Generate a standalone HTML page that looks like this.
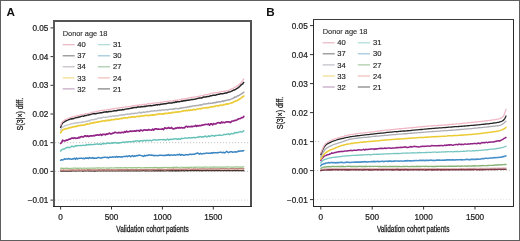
<!DOCTYPE html>
<html><head><meta charset="utf-8"><style>
html,body{margin:0;padding:0;background:#fff;}
body{width:520px;height:241px;overflow:hidden;font-family:"Liberation Sans", sans-serif;}
svg{display:block;will-change:transform;}
</style></head><body>
<svg width="520" height="241" viewBox="0 0 520 241" font-family='"Liberation Sans", sans-serif'><defs><linearGradient id="gA" gradientUnits="userSpaceOnUse" x1="60" y1="0" x2="244" y2="0"><stop offset="0" stop-color="#c8ccd2"/><stop offset="0.45" stop-color="#b4b6bc"/><stop offset="1" stop-color="#a2a2a8"/></linearGradient></defs>
<rect x="0" y="0" width="520" height="241" fill="#fff"/>
<line x1="55" y1="142.7" x2="250" y2="142.7" stroke="#c0c0c0" stroke-width="0.9" stroke-dasharray="1.2 1.8"/>
<line x1="55" y1="171.4" x2="250" y2="171.4" stroke="#c0c0c0" stroke-width="0.9" stroke-dasharray="1.2 1.8"/>
<line x1="55" y1="200.1" x2="250" y2="200.1" stroke="#d4d4d4" stroke-width="0.9" stroke-dasharray="1.2 1.8"/>
<polyline fill="none" stroke="#4a3430" stroke-width="1.3" stroke-linejoin="round" stroke-linecap="round" points="60.6,171.00 61.6,171.06 62.6,171.02 63.6,170.89 64.6,171.07 65.6,171.03 66.6,170.95 67.6,171.03 68.6,171.01 69.6,171.01 70.6,170.98 71.6,171.02 72.6,170.92 73.6,170.96 74.6,170.94 75.6,171.02 76.6,170.97 77.6,170.94 78.6,170.90 79.6,170.94 80.6,170.96 81.6,170.94 82.6,171.06 83.6,171.04 84.6,170.74 85.6,170.80 86.6,170.94 87.6,170.91 88.6,170.96 89.6,170.96 90.6,171.11 91.6,170.85 92.6,170.91 93.6,171.10 94.6,170.98 95.6,170.98 96.6,170.89 97.6,170.79 98.6,170.94 99.6,170.93 100.6,170.82 101.6,170.86 102.6,170.91 103.6,170.84 104.6,170.90 105.6,170.92 106.6,170.91 107.6,170.86 108.6,170.95 109.6,170.97 110.6,170.92 111.6,170.83 112.6,170.95 113.6,170.85 114.6,170.96 115.6,170.80 116.6,170.96 117.6,170.88 118.6,170.78 119.6,170.85 120.6,170.88 121.6,170.89 122.6,170.79 123.6,170.78 124.6,170.88 125.6,170.82 126.6,170.88 127.6,170.92 128.6,170.72 129.6,170.87 130.6,170.95 131.6,170.82 132.6,170.78 133.6,170.90 134.6,170.86 135.6,170.91 136.6,170.81 137.6,170.71 138.6,170.82 139.6,170.79 140.6,170.89 141.6,170.84 142.6,170.69 143.6,170.72 144.6,170.88 145.6,170.87 146.6,170.76 147.6,170.81 148.6,170.84 149.6,170.84 150.6,170.87 151.6,170.82 152.6,170.79 153.6,170.77 154.6,170.87 155.6,170.60 156.6,170.77 157.6,170.78 158.6,170.66 159.6,170.80 160.6,170.72 161.6,170.84 162.6,170.76 163.6,170.82 164.6,170.86 165.6,170.79 166.6,170.68 167.6,170.63 168.6,170.89 169.6,170.74 170.6,170.69 171.6,170.75 172.6,170.72 173.6,170.80 174.6,170.73 175.6,170.73 176.6,170.67 177.6,170.76 178.6,170.64 179.6,170.77 180.6,170.84 181.6,170.59 182.6,170.51 183.6,170.75 184.6,170.90 185.6,170.62 186.6,170.59 187.6,170.74 188.6,170.62 189.6,170.65 190.6,170.65 191.6,170.72 192.6,170.64 193.6,170.70 194.6,170.66 195.6,170.60 196.6,170.64 197.6,170.58 198.6,170.66 199.6,170.56 200.6,170.56 201.6,170.76 202.6,170.64 203.6,170.64 204.6,170.68 205.6,170.60 206.6,170.61 207.6,170.66 208.6,170.65 209.6,170.53 210.6,170.68 211.6,170.57 212.6,170.53 213.6,170.54 214.6,170.57 215.6,170.73 216.6,170.50 217.6,170.61 218.6,170.42 219.6,170.59 220.6,170.66 221.6,170.56 222.6,170.53 223.6,170.59 224.6,170.63 225.6,170.62 226.6,170.72 227.6,170.58 228.6,170.51 229.6,170.54 230.6,170.54 231.6,170.55 232.6,170.54 233.6,170.55 234.6,170.40 235.6,170.60 236.6,170.48 237.6,170.43 238.6,170.57 239.6,170.62 240.6,170.55 241.6,170.52 242.6,170.43 243.6,170.73 243.8,170.50"/>
<polyline fill="none" stroke="#c08478" stroke-width="1.5" stroke-linejoin="round" stroke-linecap="round" points="60.6,170.20 61.6,170.13 62.6,170.14 63.6,169.88 64.6,170.39 65.6,170.30 66.6,170.12 67.6,170.24 68.6,170.17 69.6,170.07 70.6,170.24 71.6,170.08 72.6,170.07 73.6,170.01 74.6,170.15 75.6,170.07 76.6,170.14 77.6,170.00 78.6,170.08 79.6,169.95 80.6,170.15 81.6,170.06 82.6,170.07 83.6,170.07 84.6,169.90 85.6,170.10 86.6,170.25 87.6,169.80 88.6,169.78 89.6,169.80 90.6,170.07 91.6,169.98 92.6,170.09 93.6,170.04 94.6,169.97 95.6,169.97 96.6,169.91 97.6,170.02 98.6,169.77 99.6,169.85 100.6,169.92 101.6,170.10 102.6,169.79 103.6,169.74 104.6,169.80 105.6,169.97 106.6,169.82 107.6,170.00 108.6,169.61 109.6,169.96 110.6,169.94 111.6,169.64 112.6,169.82 113.6,169.94 114.6,169.79 115.6,169.90 116.6,170.05 117.6,169.79 118.6,169.72 119.6,169.65 120.6,169.81 121.6,169.71 122.6,169.70 123.6,169.70 124.6,169.78 125.6,169.57 126.6,169.51 127.6,169.39 128.6,169.82 129.6,169.67 130.6,169.84 131.6,169.65 132.6,169.55 133.6,169.69 134.6,169.62 135.6,169.47 136.6,169.50 137.6,169.81 138.6,169.64 139.6,169.63 140.6,169.54 141.6,169.49 142.6,169.67 143.6,169.54 144.6,169.45 145.6,169.52 146.6,169.42 147.6,169.54 148.6,169.65 149.6,169.40 150.6,169.67 151.6,169.41 152.6,169.50 153.6,169.37 154.6,169.44 155.6,169.46 156.6,169.39 157.6,169.35 158.6,169.35 159.6,169.32 160.6,169.22 161.6,169.37 162.6,169.44 163.6,169.50 164.6,169.46 165.6,169.67 166.6,169.40 167.6,169.30 168.6,169.57 169.6,169.21 170.6,169.45 171.6,169.21 172.6,169.36 173.6,169.07 174.6,169.40 175.6,169.27 176.6,169.16 177.6,169.47 178.6,169.36 179.6,169.26 180.6,169.16 181.6,169.23 182.6,169.21 183.6,169.31 184.6,169.31 185.6,169.12 186.6,169.13 187.6,169.12 188.6,169.02 189.6,169.10 190.6,169.15 191.6,169.24 192.6,169.30 193.6,169.04 194.6,169.19 195.6,169.07 196.6,169.36 197.6,169.10 198.6,169.15 199.6,168.97 200.6,168.98 201.6,169.09 202.6,169.01 203.6,169.09 204.6,168.86 205.6,169.11 206.6,168.92 207.6,169.22 208.6,168.97 209.6,169.13 210.6,168.82 211.6,169.03 212.6,168.87 213.6,168.91 214.6,168.96 215.6,168.91 216.6,168.97 217.6,169.02 218.6,169.00 219.6,168.90 220.6,168.74 221.6,168.80 222.6,168.86 223.6,168.62 224.6,168.96 225.6,168.83 226.6,168.82 227.6,168.96 228.6,168.91 229.6,168.85 230.6,168.70 231.6,168.85 232.6,168.84 233.6,168.68 234.6,168.91 235.6,168.83 236.6,168.53 237.6,168.77 238.6,168.59 239.6,168.87 240.6,168.83 241.6,168.59 242.6,168.60 243.6,168.71 243.8,168.70"/>
<polyline fill="none" stroke="#98c488" stroke-width="1.2" stroke-linejoin="round" stroke-linecap="round" points="60.6,168.40 61.6,168.13 62.6,168.42 63.6,168.31 64.6,168.32 65.6,168.33 66.6,168.14 67.6,168.31 68.6,168.24 69.6,168.65 70.6,168.33 71.6,168.26 72.6,168.26 73.6,168.21 74.6,168.16 75.6,168.22 76.6,168.30 77.6,168.21 78.6,168.32 79.6,168.20 80.6,168.21 81.6,168.35 82.6,168.25 83.6,168.13 84.6,168.15 85.6,168.22 86.6,168.35 87.6,168.12 88.6,168.11 89.6,168.23 90.6,168.03 91.6,168.08 92.6,168.19 93.6,168.15 94.6,168.09 95.6,168.14 96.6,167.78 97.6,168.15 98.6,167.95 99.6,167.87 100.6,168.05 101.6,168.09 102.6,167.96 103.6,167.89 104.6,167.99 105.6,167.97 106.6,168.11 107.6,168.04 108.6,167.97 109.6,168.06 110.6,167.92 111.6,167.83 112.6,167.98 113.6,167.97 114.6,167.88 115.6,167.81 116.6,167.91 117.6,167.62 118.6,167.93 119.6,167.91 120.6,167.68 121.6,167.85 122.6,167.73 123.6,167.90 124.6,167.61 125.6,167.71 126.6,167.87 127.6,167.90 128.6,167.56 129.6,167.72 130.6,167.79 131.6,167.69 132.6,167.90 133.6,167.62 134.6,167.76 135.6,167.61 136.6,167.85 137.6,167.70 138.6,167.66 139.6,167.51 140.6,167.85 141.6,167.74 142.6,167.74 143.6,167.77 144.6,167.68 145.6,167.57 146.6,167.55 147.6,167.54 148.6,167.75 149.6,167.46 150.6,167.54 151.6,167.55 152.6,167.60 153.6,167.63 154.6,167.44 155.6,167.38 156.6,167.55 157.6,167.66 158.6,167.61 159.6,167.54 160.6,167.48 161.6,167.54 162.6,167.47 163.6,167.57 164.6,167.40 165.6,167.49 166.6,167.46 167.6,167.51 168.6,167.47 169.6,167.70 170.6,167.58 171.6,167.58 172.6,167.22 173.6,167.38 174.6,167.34 175.6,167.45 176.6,167.16 177.6,167.50 178.6,167.48 179.6,167.23 180.6,167.26 181.6,167.27 182.6,167.35 183.6,167.40 184.6,167.53 185.6,167.30 186.6,167.39 187.6,167.32 188.6,167.47 189.6,167.36 190.6,167.42 191.6,167.17 192.6,167.25 193.6,167.18 194.6,167.40 195.6,167.31 196.6,167.20 197.6,167.18 198.6,167.27 199.6,167.14 200.6,167.11 201.6,167.25 202.6,167.44 203.6,167.16 204.6,167.12 205.6,167.05 206.6,167.03 207.6,167.21 208.6,167.23 209.6,167.14 210.6,167.17 211.6,167.14 212.6,167.13 213.6,166.96 214.6,167.06 215.6,167.11 216.6,167.01 217.6,167.03 218.6,166.99 219.6,167.03 220.6,167.15 221.6,167.01 222.6,167.03 223.6,167.12 224.6,167.10 225.6,167.19 226.6,166.81 227.6,167.10 228.6,166.96 229.6,167.01 230.6,167.07 231.6,167.09 232.6,167.08 233.6,166.98 234.6,167.12 235.6,166.93 236.6,166.93 237.6,167.02 238.6,166.88 239.6,167.14 240.6,167.02 241.6,167.13 242.6,166.91 243.6,166.86 243.8,166.90"/>
<polyline fill="none" stroke="#3b86c2" stroke-width="1.5" stroke-linejoin="round" stroke-linecap="round" points="60.6,160.30 61.6,159.67 62.6,160.05 63.6,159.58 64.6,158.70 65.6,159.16 66.6,158.88 67.6,159.08 68.6,158.44 69.6,159.00 70.6,158.95 71.6,159.34 72.6,158.87 73.6,158.89 74.6,158.19 75.6,159.39 76.6,157.98 77.6,158.94 78.6,158.43 79.6,158.22 80.6,158.26 81.6,158.22 82.6,158.54 83.6,158.34 84.6,158.84 85.6,157.71 86.6,158.28 87.6,157.95 88.6,158.47 89.6,157.48 90.6,158.04 91.6,158.19 92.6,157.60 93.6,158.38 94.6,158.08 95.6,158.32 96.6,158.27 97.6,157.59 98.6,157.61 99.6,157.76 100.6,158.03 101.6,158.02 102.6,157.45 103.6,157.43 104.6,157.31 105.6,157.33 106.6,157.38 107.6,157.36 108.6,158.02 109.6,157.12 110.6,157.13 111.6,157.32 112.6,156.79 113.6,156.92 114.6,156.99 115.6,157.19 116.6,156.44 117.6,157.27 118.6,156.65 119.6,156.77 120.6,156.94 121.6,156.82 122.6,156.90 123.6,156.55 124.6,156.43 125.6,156.49 126.6,156.00 127.6,156.67 128.6,155.96 129.6,155.75 130.6,156.80 131.6,156.02 132.6,155.63 133.6,156.58 134.6,155.82 135.6,156.24 136.6,155.58 137.6,155.73 138.6,155.22 139.6,155.12 140.6,155.40 141.6,155.66 142.6,155.93 143.6,156.44 144.6,155.27 145.6,155.92 146.6,155.36 147.6,155.49 148.6,155.03 149.6,155.00 150.6,155.21 151.6,155.05 152.6,155.42 153.6,155.17 154.6,155.79 155.6,155.41 156.6,155.39 157.6,155.69 158.6,155.46 159.6,155.25 160.6,155.21 161.6,155.17 162.6,155.55 163.6,155.43 164.6,155.27 165.6,155.39 166.6,154.92 167.6,155.25 168.6,154.59 169.6,155.48 170.6,155.04 171.6,155.05 172.6,155.16 173.6,154.93 174.6,154.82 175.6,155.27 176.6,154.88 177.6,154.51 178.6,154.92 179.6,154.18 180.6,155.25 181.6,154.61 182.6,154.63 183.6,155.32 184.6,155.24 185.6,154.52 186.6,154.63 187.6,154.73 188.6,154.88 189.6,154.22 190.6,154.26 191.6,154.56 192.6,154.19 193.6,154.29 194.6,154.19 195.6,153.56 196.6,153.59 197.6,152.95 198.6,153.68 199.6,154.15 200.6,153.29 201.6,154.00 202.6,153.86 203.6,153.46 204.6,153.41 205.6,153.38 206.6,153.00 207.6,153.13 208.6,153.15 209.6,153.30 210.6,153.30 211.6,152.73 212.6,153.19 213.6,152.60 214.6,152.74 215.6,152.86 216.6,152.67 217.6,152.58 218.6,152.66 219.6,152.34 220.6,152.25 221.6,152.36 222.6,152.70 223.6,152.30 224.6,152.92 225.6,152.32 226.6,151.22 227.6,152.01 228.6,152.65 229.6,152.05 230.6,151.85 231.6,151.64 232.6,152.29 233.6,152.11 234.6,151.91 235.6,151.74 236.6,151.97 237.6,151.66 238.6,150.86 239.6,151.40 240.6,151.08 241.6,150.86 242.6,151.02 243.6,150.64 243.8,150.60"/>
<polyline fill="none" stroke="#66c2b8" stroke-width="1.45" stroke-linejoin="round" stroke-linecap="round" points="60.6,151.20 61.6,149.68 62.6,149.35 63.6,149.05 64.6,148.86 65.6,148.17 66.6,147.63 67.6,147.27 68.6,147.53 69.6,147.61 70.6,146.99 71.6,146.33 72.6,146.26 73.6,146.96 74.6,146.36 75.6,145.59 76.6,146.01 77.6,145.53 78.6,145.60 79.6,145.54 80.6,145.36 81.6,145.68 82.6,145.38 83.6,145.11 84.6,145.36 85.6,145.41 86.6,144.51 87.6,144.89 88.6,144.58 89.6,144.78 90.6,144.34 91.6,144.72 92.6,144.64 93.6,144.49 94.6,144.18 95.6,144.33 96.6,144.04 97.6,143.88 98.6,144.33 99.6,143.81 100.6,144.48 101.6,144.25 102.6,143.27 103.6,143.94 104.6,143.40 105.6,143.68 106.6,143.60 107.6,142.84 108.6,143.33 109.6,143.23 110.6,143.54 111.6,142.75 112.6,143.29 113.6,142.60 114.6,142.77 115.6,142.51 116.6,143.19 117.6,142.82 118.6,143.36 119.6,142.69 120.6,142.68 121.6,142.61 122.6,142.05 123.6,142.16 124.6,142.56 125.6,141.91 126.6,142.03 127.6,141.89 128.6,142.03 129.6,141.64 130.6,141.64 131.6,141.70 132.6,141.59 133.6,141.20 134.6,141.72 135.6,140.93 136.6,140.89 137.6,140.80 138.6,141.48 139.6,140.98 140.6,140.71 141.6,140.60 142.6,141.05 143.6,140.50 144.6,140.37 145.6,140.93 146.6,140.27 147.6,140.50 148.6,140.54 149.6,140.34 150.6,140.41 151.6,140.81 152.6,140.14 153.6,139.84 154.6,139.59 155.6,140.07 156.6,139.96 157.6,140.11 158.6,139.81 159.6,139.75 160.6,139.62 161.6,139.63 162.6,139.81 163.6,139.58 164.6,139.68 165.6,140.23 166.6,139.71 167.6,138.98 168.6,140.02 169.6,139.51 170.6,139.04 171.6,139.59 172.6,139.24 173.6,138.98 174.6,138.91 175.6,138.73 176.6,139.01 177.6,139.28 178.6,138.75 179.6,138.92 180.6,139.32 181.6,138.21 182.6,138.61 183.6,138.33 184.6,137.99 185.6,137.90 186.6,138.13 187.6,138.18 188.6,137.76 189.6,137.84 190.6,137.96 191.6,137.72 192.6,137.80 193.6,137.57 194.6,137.48 195.6,137.82 196.6,137.33 197.6,137.08 198.6,137.18 199.6,136.56 200.6,136.67 201.6,136.97 202.6,136.83 203.6,137.06 204.6,136.48 205.6,135.92 206.6,136.97 207.6,136.61 208.6,135.83 209.6,136.56 210.6,136.04 211.6,135.35 212.6,135.73 213.6,135.62 214.6,136.23 215.6,135.36 216.6,135.45 217.6,135.35 218.6,135.22 219.6,134.94 220.6,135.22 221.6,135.40 222.6,135.15 223.6,134.52 224.6,134.34 225.6,134.64 226.6,134.24 227.6,134.14 228.6,133.65 229.6,134.70 230.6,134.21 231.6,133.42 232.6,133.85 233.6,133.80 234.6,132.37 235.6,132.76 236.6,132.58 237.6,132.69 238.6,132.19 239.6,131.89 240.6,131.68 241.6,132.04 242.6,131.86 243.6,130.69 243.8,130.80"/>
<polyline fill="none" stroke="#922486" stroke-width="1.7" stroke-linejoin="round" stroke-linecap="round" points="60.6,143.40 61.6,142.68 62.6,140.22 63.6,140.72 64.6,140.84 65.6,140.67 66.6,140.07 67.6,140.10 68.6,139.35 69.6,139.21 70.6,138.85 71.6,138.15 72.6,138.05 73.6,138.36 74.6,137.80 75.6,138.37 76.6,138.22 77.6,138.27 78.6,137.39 79.6,137.82 80.6,136.76 81.6,136.66 82.6,136.88 83.6,136.83 84.6,135.95 85.6,135.76 86.6,136.46 87.6,135.85 88.6,136.55 89.6,136.11 90.6,135.96 91.6,135.80 92.6,135.97 93.6,135.43 94.6,135.82 95.6,135.06 96.6,135.07 97.6,134.77 98.6,135.17 99.6,134.83 100.6,134.35 101.6,135.38 102.6,134.31 103.6,134.29 104.6,134.38 105.6,134.80 106.6,133.93 107.6,134.15 108.6,133.79 109.6,133.05 110.6,133.83 111.6,133.81 112.6,133.19 113.6,133.17 114.6,132.46 115.6,132.35 116.6,132.69 117.6,132.99 118.6,132.45 119.6,132.65 120.6,132.82 121.6,132.37 122.6,132.46 123.6,132.71 124.6,131.54 125.6,132.23 126.6,131.09 127.6,131.92 128.6,131.73 129.6,131.34 130.6,131.03 131.6,131.35 132.6,131.12 133.6,131.23 134.6,130.74 135.6,131.23 136.6,130.51 137.6,130.71 138.6,130.59 139.6,131.17 140.6,129.98 141.6,130.32 142.6,130.88 143.6,130.06 144.6,129.74 145.6,130.26 146.6,129.95 147.6,130.32 148.6,129.54 149.6,129.90 150.6,130.01 151.6,130.08 152.6,129.15 153.6,130.09 154.6,129.08 155.6,128.76 156.6,128.92 157.6,129.29 158.6,129.03 159.6,129.27 160.6,129.23 161.6,129.10 162.6,128.82 163.6,129.59 164.6,127.92 165.6,128.06 166.6,128.50 167.6,128.15 168.6,127.58 169.6,128.23 170.6,128.19 171.6,127.46 172.6,128.72 173.6,128.83 174.6,128.74 175.6,127.98 176.6,128.17 177.6,127.58 178.6,128.03 179.6,127.59 180.6,127.92 181.6,127.51 182.6,127.95 183.6,127.75 184.6,127.79 185.6,126.52 186.6,126.30 187.6,127.06 188.6,126.53 189.6,126.78 190.6,126.60 191.6,126.41 192.6,126.57 193.6,126.28 194.6,126.12 195.6,125.44 196.6,126.36 197.6,125.60 198.6,125.87 199.6,125.45 200.6,125.71 201.6,125.16 202.6,125.08 203.6,124.94 204.6,124.50 205.6,124.45 206.6,124.51 207.6,124.42 208.6,123.97 209.6,125.20 210.6,123.76 211.6,123.93 212.6,124.92 213.6,123.56 214.6,124.02 215.6,123.86 216.6,123.39 217.6,122.78 218.6,122.60 219.6,123.09 220.6,123.13 221.6,121.97 222.6,122.76 223.6,122.29 224.6,122.77 225.6,122.33 226.6,121.78 227.6,121.76 228.6,121.78 229.6,122.12 230.6,122.60 231.6,121.32 232.6,121.00 233.6,120.98 234.6,120.44 235.6,120.41 236.6,119.99 237.6,119.46 238.6,118.73 239.6,118.66 240.6,118.47 241.6,117.62 242.6,117.65 243.6,116.83 243.8,116.30"/>
<polyline fill="none" stroke="#ebcb36" stroke-width="1.7" stroke-linejoin="round" stroke-linecap="round" points="60.6,132.80 61.6,131.01 62.6,130.04 63.6,129.40 64.6,129.14 65.6,128.71 66.6,128.62 67.6,128.61 68.6,127.93 69.6,127.66 70.6,127.67 71.6,127.42 72.6,127.15 73.6,126.72 74.6,126.72 75.6,126.69 76.6,126.05 77.6,126.07 78.6,125.57 79.6,125.53 80.6,125.23 81.6,125.40 82.6,124.99 83.6,125.14 84.6,124.92 85.6,124.64 86.6,123.92 87.6,124.13 88.6,124.01 89.6,123.81 90.6,123.21 91.6,123.20 92.6,122.85 93.6,122.65 94.6,122.83 95.6,122.20 96.6,122.16 97.6,122.17 98.6,121.66 99.6,121.60 100.6,121.48 101.6,121.30 102.6,120.86 103.6,121.00 104.6,121.13 105.6,120.34 106.6,120.73 107.6,120.43 108.6,120.12 109.6,120.56 110.6,120.16 111.6,119.59 112.6,119.74 113.6,119.72 114.6,119.42 115.6,119.47 116.6,119.18 117.6,119.20 118.6,119.23 119.6,118.63 120.6,118.69 121.6,118.40 122.6,118.40 123.6,117.97 124.6,117.97 125.6,117.92 126.6,118.02 127.6,117.94 128.6,117.27 129.6,117.25 130.6,117.44 131.6,116.73 132.6,116.94 133.6,116.90 134.6,117.08 135.6,116.83 136.6,116.49 137.6,116.36 138.6,116.28 139.6,116.56 140.6,116.02 141.6,115.95 142.6,115.99 143.6,115.79 144.6,115.67 145.6,115.38 146.6,115.52 147.6,115.34 148.6,115.60 149.6,115.39 150.6,115.14 151.6,115.20 152.6,114.88 153.6,115.09 154.6,114.76 155.6,114.79 156.6,114.27 157.6,114.52 158.6,113.96 159.6,113.77 160.6,114.04 161.6,113.79 162.6,113.91 163.6,114.24 164.6,113.45 165.6,113.37 166.6,113.43 167.6,113.37 168.6,113.09 169.6,112.96 170.6,113.03 171.6,112.86 172.6,112.39 173.6,112.47 174.6,112.36 175.6,111.99 176.6,112.14 177.6,111.76 178.6,112.03 179.6,111.73 180.6,111.57 181.6,111.28 182.6,111.24 183.6,110.69 184.6,110.74 185.6,110.92 186.6,110.23 187.6,110.74 188.6,110.02 189.6,110.43 190.6,109.93 191.6,110.14 192.6,109.84 193.6,109.33 194.6,109.79 195.6,109.68 196.6,109.20 197.6,109.00 198.6,108.87 199.6,108.54 200.6,108.85 201.6,108.33 202.6,108.29 203.6,107.97 204.6,107.86 205.6,107.56 206.6,107.96 207.6,107.50 208.6,107.59 209.6,107.22 210.6,106.90 211.6,106.82 212.6,106.61 213.6,106.56 214.6,106.31 215.6,106.16 216.6,105.74 217.6,105.69 218.6,106.06 219.6,105.37 220.6,105.12 221.6,105.25 222.6,105.31 223.6,104.50 224.6,104.59 225.6,104.30 226.6,103.84 227.6,104.17 228.6,103.76 229.6,103.53 230.6,103.06 231.6,103.00 232.6,102.41 233.6,102.09 234.6,101.44 235.6,100.95 236.6,101.02 237.6,100.10 238.6,99.73 239.6,99.06 240.6,98.31 241.6,97.58 242.6,97.08 243.6,96.09 243.8,96.00"/>
<polyline fill="none" stroke="url(#gA)" stroke-width="1.5" stroke-linejoin="round" stroke-linecap="round" points="60.6,130.00 61.6,128.00 62.6,127.05 63.6,126.62 64.6,125.75 65.6,125.74 66.6,125.13 67.6,125.04 68.6,124.64 69.6,124.39 70.6,124.01 71.6,123.63 72.6,123.61 73.6,123.57 74.6,122.98 75.6,123.08 76.6,122.82 77.6,122.98 78.6,122.40 79.6,122.39 80.6,122.40 81.6,122.25 82.6,121.73 83.6,121.99 84.6,121.73 85.6,121.53 86.6,121.35 87.6,121.20 88.6,120.55 89.6,120.96 90.6,120.21 91.6,119.66 92.6,119.81 93.6,119.84 94.6,119.18 95.6,119.34 96.6,119.11 97.6,118.41 98.6,117.89 99.6,117.96 100.6,118.26 101.6,117.69 102.6,117.39 103.6,117.26 104.6,117.38 105.6,117.22 106.6,117.25 107.6,117.13 108.6,116.61 109.6,116.62 110.6,116.29 111.6,116.39 112.6,116.01 113.6,115.87 114.6,116.40 115.6,115.84 116.6,115.83 117.6,116.06 118.6,115.57 119.6,115.25 120.6,115.14 121.6,114.84 122.6,115.07 123.6,114.64 124.6,114.92 125.6,114.36 126.6,114.22 127.6,114.07 128.6,114.14 129.6,113.92 130.6,114.02 131.6,113.50 132.6,113.54 133.6,113.74 134.6,113.18 135.6,113.20 136.6,113.29 137.6,112.96 138.6,112.60 139.6,112.20 140.6,112.97 141.6,112.46 142.6,112.51 143.6,112.05 144.6,112.40 145.6,112.03 146.6,111.83 147.6,111.53 148.6,111.67 149.6,111.40 150.6,111.34 151.6,110.96 152.6,111.08 153.6,111.10 154.6,110.71 155.6,110.87 156.6,110.88 157.6,110.58 158.6,110.41 159.6,110.31 160.6,110.52 161.6,109.92 162.6,110.07 163.6,109.95 164.6,109.96 165.6,109.82 166.6,109.51 167.6,110.05 168.6,109.57 169.6,109.17 170.6,109.16 171.6,109.25 172.6,109.25 173.6,108.75 174.6,109.05 175.6,108.52 176.6,108.51 177.6,108.72 178.6,108.76 179.6,108.27 180.6,108.09 181.6,108.26 182.6,107.64 183.6,107.76 184.6,107.59 185.6,107.59 186.6,107.28 187.6,107.00 188.6,107.01 189.6,106.49 190.6,106.71 191.6,106.24 192.6,106.02 193.6,105.96 194.6,105.87 195.6,105.84 196.6,105.49 197.6,105.51 198.6,105.40 199.6,105.02 200.6,104.68 201.6,104.91 202.6,104.62 203.6,103.98 204.6,104.05 205.6,104.11 206.6,103.65 207.6,103.63 208.6,103.26 209.6,103.52 210.6,103.33 211.6,103.15 212.6,103.23 213.6,102.70 214.6,102.55 215.6,102.83 216.6,101.99 217.6,102.22 218.6,101.63 219.6,101.76 220.6,101.96 221.6,101.41 222.6,101.02 223.6,101.46 224.6,100.68 225.6,100.53 226.6,100.41 227.6,99.84 228.6,100.06 229.6,99.86 230.6,99.36 231.6,98.92 232.6,98.44 233.6,98.24 234.6,97.00 235.6,97.16 236.6,96.76 237.6,95.80 238.6,95.73 239.6,95.02 240.6,94.41 241.6,93.78 242.6,93.18 243.6,92.44 243.8,92.20"/>
<polyline fill="none" stroke="#262626" stroke-width="1.5" stroke-linejoin="round" stroke-linecap="round" points="60.6,127.20 61.6,124.53 62.6,122.86 63.6,122.31 64.6,121.71 65.6,120.93 66.6,120.58 67.6,120.14 68.6,119.69 69.6,119.30 70.6,118.81 71.6,119.03 72.6,118.54 73.6,118.66 74.6,118.15 75.6,117.82 76.6,117.44 77.6,117.51 78.6,116.98 79.6,117.05 80.6,116.52 81.6,116.38 82.6,115.90 83.6,116.26 84.6,115.68 85.6,115.42 86.6,115.40 87.6,114.94 88.6,115.00 89.6,114.51 90.6,114.58 91.6,114.15 92.6,113.85 93.6,113.86 94.6,113.55 95.6,113.68 96.6,113.43 97.6,113.34 98.6,113.12 99.6,112.90 100.6,112.80 101.6,112.81 102.6,112.48 103.6,112.25 104.6,112.08 105.6,112.06 106.6,111.85 107.6,112.11 108.6,111.52 109.6,111.40 110.6,111.38 111.6,111.39 112.6,111.12 113.6,110.88 114.6,110.77 115.6,110.70 116.6,110.75 117.6,110.31 118.6,110.30 119.6,110.06 120.6,110.05 121.6,109.90 122.6,109.46 123.6,109.87 124.6,109.38 125.6,109.11 126.6,108.88 127.6,108.81 128.6,108.69 129.6,108.61 130.6,108.35 131.6,108.26 132.6,107.79 133.6,107.75 134.6,107.56 135.6,107.58 136.6,107.47 137.6,107.04 138.6,107.09 139.6,107.08 140.6,106.97 141.6,106.53 142.6,106.65 143.6,106.49 144.6,106.24 145.6,106.48 146.6,105.89 147.6,105.89 148.6,105.87 149.6,105.71 150.6,105.53 151.6,105.63 152.6,105.52 153.6,105.31 154.6,105.20 155.6,104.91 156.6,104.61 157.6,104.98 158.6,104.38 159.6,104.72 160.6,104.23 161.6,104.15 162.6,103.96 163.6,103.99 164.6,103.63 165.6,103.85 166.6,103.52 167.6,103.33 168.6,103.08 169.6,103.07 170.6,102.88 171.6,103.03 172.6,102.74 173.6,102.22 174.6,102.54 175.6,101.81 176.6,102.24 177.6,101.58 178.6,101.71 179.6,101.67 180.6,101.39 181.6,101.07 182.6,101.26 183.6,100.65 184.6,100.53 185.6,100.79 186.6,100.29 187.6,100.28 188.6,100.20 189.6,99.89 190.6,99.77 191.6,99.57 192.6,99.41 193.6,99.38 194.6,99.16 195.6,98.89 196.6,98.79 197.6,98.39 198.6,98.17 199.6,97.95 200.6,98.02 201.6,97.95 202.6,97.52 203.6,97.01 204.6,97.03 205.6,96.97 206.6,96.74 207.6,96.51 208.6,96.44 209.6,96.22 210.6,95.68 211.6,95.75 212.6,95.37 213.6,95.31 214.6,95.27 215.6,95.15 216.6,94.78 217.6,94.40 218.6,94.23 219.6,94.17 220.6,93.77 221.6,93.73 222.6,93.65 223.6,93.51 224.6,93.14 225.6,93.03 226.6,92.96 227.6,92.55 228.6,91.97 229.6,91.95 230.6,91.60 231.6,91.10 232.6,90.75 233.6,90.07 234.6,89.99 235.6,89.34 236.6,88.61 237.6,88.09 238.6,87.38 239.6,86.48 240.6,85.39 241.6,84.41 242.6,84.08 243.6,82.47 243.8,82.40"/>
<polyline fill="none" stroke="#f0b8c6" stroke-width="1.3" stroke-linejoin="round" stroke-linecap="round" points="60.6,125.60 61.6,122.78 62.6,121.41 63.6,120.70 64.6,119.98 65.6,119.52 66.6,119.15 67.6,118.74 68.6,118.32 69.6,117.86 70.6,117.50 71.6,117.20 72.6,116.99 73.6,116.77 74.6,116.38 75.6,116.11 76.6,116.08 77.6,115.52 78.6,115.53 79.6,115.39 80.6,114.95 81.6,114.71 82.6,114.54 83.6,114.53 84.6,114.20 85.6,113.71 86.6,113.70 87.6,113.67 88.6,113.43 89.6,113.12 90.6,112.74 91.6,112.25 92.6,112.31 93.6,112.02 94.6,111.82 95.6,111.81 96.6,111.40 97.6,111.22 98.6,111.08 99.6,110.78 100.6,110.55 101.6,110.38 102.6,110.45 103.6,110.26 104.6,109.96 105.6,110.06 106.6,109.78 107.6,109.41 108.6,109.57 109.6,109.32 110.6,109.01 111.6,109.15 112.6,108.89 113.6,108.75 114.6,108.76 115.6,108.21 116.6,108.21 117.6,108.19 118.6,108.15 119.6,107.87 120.6,107.67 121.6,107.52 122.6,107.51 123.6,107.48 124.6,107.02 125.6,106.78 126.6,106.90 127.6,106.74 128.6,106.51 129.6,106.60 130.6,106.48 131.6,106.13 132.6,106.02 133.6,106.01 134.6,105.72 135.6,105.43 136.6,105.49 137.6,105.22 138.6,105.27 139.6,105.00 140.6,104.91 141.6,104.88 142.6,104.65 143.6,104.43 144.6,104.24 145.6,104.52 146.6,104.29 147.6,103.77 148.6,103.70 149.6,103.81 150.6,103.50 151.6,103.46 152.6,103.45 153.6,103.21 154.6,103.04 155.6,102.85 156.6,102.78 157.6,102.71 158.6,102.78 159.6,102.55 160.6,102.22 161.6,102.26 162.6,102.01 163.6,101.64 164.6,101.72 165.6,101.75 166.6,101.38 167.6,101.48 168.6,101.16 169.6,101.08 170.6,100.77 171.6,101.12 172.6,100.74 173.6,100.69 174.6,100.33 175.6,100.03 176.6,100.29 177.6,99.85 178.6,100.06 179.6,99.63 180.6,99.75 181.6,99.24 182.6,98.93 183.6,99.14 184.6,98.86 185.6,98.71 186.6,98.70 187.6,98.24 188.6,98.01 189.6,97.86 190.6,97.61 191.6,97.41 192.6,97.31 193.6,97.18 194.6,97.07 195.6,96.78 196.6,96.75 197.6,96.69 198.6,96.34 199.6,96.23 200.6,95.82 201.6,95.78 202.6,95.58 203.6,95.18 204.6,94.81 205.6,94.77 206.6,94.57 207.6,94.55 208.6,94.04 209.6,94.13 210.6,93.31 211.6,93.41 212.6,93.18 213.6,93.01 214.6,92.80 215.6,92.69 216.6,92.76 217.6,92.32 218.6,92.35 219.6,92.00 220.6,91.88 221.6,91.37 222.6,91.59 223.6,91.52 224.6,91.10 225.6,91.00 226.6,90.77 227.6,90.98 228.6,90.26 229.6,89.96 230.6,89.26 231.6,88.98 232.6,88.74 233.6,88.00 234.6,87.22 235.6,86.98 236.6,86.36 237.6,85.65 238.6,84.86 239.6,83.84 240.6,83.39 241.6,81.77 242.6,80.66 243.6,79.06 243.8,79.00"/>
<rect x="53" y="20" width="2" height="187" fill="#5a5a5a"/>
<rect x="250" y="20" width="2" height="187" fill="#505050"/>
<rect x="53" y="20" width="199" height="2" fill="#555"/>
<rect x="53" y="206" width="199" height="1" fill="#2a2a2a"/>
<line x1="50.5" y1="27.9" x2="53" y2="27.9" stroke="#333" stroke-width="1"/>
<text x="48.4" y="30.9" text-anchor="end" font-size="8.2" fill="#222" stroke="#222" stroke-width="0.22">0.05</text>
<line x1="50.5" y1="56.6" x2="53" y2="56.6" stroke="#333" stroke-width="1"/>
<text x="48.4" y="59.6" text-anchor="end" font-size="8.2" fill="#222" stroke="#222" stroke-width="0.22">0.04</text>
<line x1="50.5" y1="85.3" x2="53" y2="85.3" stroke="#333" stroke-width="1"/>
<text x="48.4" y="88.3" text-anchor="end" font-size="8.2" fill="#222" stroke="#222" stroke-width="0.22">0.03</text>
<line x1="50.5" y1="114.0" x2="53" y2="114.0" stroke="#333" stroke-width="1"/>
<text x="48.4" y="117.0" text-anchor="end" font-size="8.2" fill="#222" stroke="#222" stroke-width="0.22">0.02</text>
<line x1="50.5" y1="142.7" x2="53" y2="142.7" stroke="#333" stroke-width="1"/>
<text x="48.4" y="145.7" text-anchor="end" font-size="8.2" fill="#222" stroke="#222" stroke-width="0.22">0.01</text>
<line x1="50.5" y1="171.4" x2="53" y2="171.4" stroke="#333" stroke-width="1"/>
<text x="48.4" y="174.4" text-anchor="end" font-size="8.2" fill="#222" stroke="#222" stroke-width="0.22">0.00</text>
<line x1="50.5" y1="200.1" x2="53" y2="200.1" stroke="#333" stroke-width="1"/>
<text x="48.4" y="203.1" text-anchor="end" font-size="8.2" fill="#222" stroke="#222" stroke-width="0.22">−0.01</text>
<line x1="60.6" y1="207" x2="60.6" y2="209.5" stroke="#333" stroke-width="1"/>
<text x="60.6" y="219.6" text-anchor="middle" font-size="8.2" fill="#222" stroke="#222" stroke-width="0.22">0</text>
<line x1="111.5" y1="207" x2="111.5" y2="209.5" stroke="#333" stroke-width="1"/>
<text x="111.5" y="219.6" text-anchor="middle" font-size="8.2" fill="#222" stroke="#222" stroke-width="0.22">500</text>
<line x1="162.4" y1="207" x2="162.4" y2="209.5" stroke="#333" stroke-width="1"/>
<text x="162.4" y="219.6" text-anchor="middle" font-size="8.2" fill="#222" stroke="#222" stroke-width="0.22">1000</text>
<line x1="213.3" y1="207" x2="213.3" y2="209.5" stroke="#333" stroke-width="1"/>
<text x="213.3" y="219.6" text-anchor="middle" font-size="8.2" fill="#222" stroke="#222" stroke-width="0.22">1500</text>
<text x="116.3" y="231.7" font-size="8.6" fill="#222" stroke="#222" stroke-width="0.3" textLength="72.5" lengthAdjust="spacingAndGlyphs">Validation cohort patients</text>
<text transform="translate(22.9,130.4) rotate(-90)" x="0" y="0" font-size="8.8" fill="#222" stroke="#222" stroke-width="0.3" textLength="32.5" lengthAdjust="spacingAndGlyphs">S(3|×) diff.</text>
<line x1="315" y1="141.6" x2="321" y2="141.6" stroke="#c0c0c0" stroke-width="0.9" stroke-dasharray="1.2 1.8"/>
<line x1="314" y1="170.6" x2="512" y2="170.6" stroke="#c8c8c8" stroke-width="0.9" stroke-dasharray="1.2 1.8"/>
<line x1="314" y1="199.6" x2="512" y2="199.6" stroke="#e0e0e0" stroke-width="0.9" stroke-dasharray="1.2 1.8"/>
<polyline fill="none" stroke="#e0a8a8" stroke-width="1.0" stroke-linejoin="round" stroke-linecap="round" points="320.8,169.60 321.8,169.34 322.8,169.12 323.8,168.95 324.8,168.79 325.8,168.82 326.8,168.75 327.8,168.70 328.8,168.67 329.8,168.66 330.8,168.69 331.8,168.53 332.8,168.54 333.8,168.61 334.8,168.44 335.8,168.50 336.8,168.44 337.8,168.46 338.8,168.47 339.8,168.34 340.8,168.37 341.8,168.35 342.8,168.40 343.8,168.37 344.8,168.48 345.8,168.37 346.8,168.49 347.8,168.38 348.8,168.41 349.8,168.40 350.8,168.40 351.8,168.34 352.8,168.42 353.8,168.42 354.8,168.41 355.8,168.43 356.8,168.36 357.8,168.39 358.8,168.37 359.8,168.32 360.8,168.43 361.8,168.38 362.8,168.40 363.8,168.52 364.8,168.42 365.8,168.42 366.8,168.47 367.8,168.48 368.8,168.51 369.8,168.39 370.8,168.51 371.8,168.41 372.8,168.36 373.8,168.37 374.8,168.48 375.8,168.46 376.8,168.49 377.8,168.38 378.8,168.41 379.8,168.37 380.8,168.33 381.8,168.43 382.8,168.51 383.8,168.49 384.8,168.40 385.8,168.50 386.8,168.41 387.8,168.46 388.8,168.48 389.8,168.42 390.8,168.40 391.8,168.48 392.8,168.44 393.8,168.42 394.8,168.48 395.8,168.44 396.8,168.48 397.8,168.41 398.8,168.50 399.8,168.41 400.8,168.44 401.8,168.37 402.8,168.52 403.8,168.47 404.8,168.49 405.8,168.38 406.8,168.48 407.8,168.45 408.8,168.53 409.8,168.40 410.8,168.49 411.8,168.53 412.8,168.42 413.8,168.49 414.8,168.43 415.8,168.49 416.8,168.50 417.8,168.55 418.8,168.50 419.8,168.45 420.8,168.52 421.8,168.49 422.8,168.55 423.8,168.46 424.8,168.56 425.8,168.50 426.8,168.51 427.8,168.55 428.8,168.47 429.8,168.47 430.8,168.52 431.8,168.49 432.8,168.50 433.8,168.48 434.8,168.48 435.8,168.54 436.8,168.60 437.8,168.43 438.8,168.58 439.8,168.54 440.8,168.56 441.8,168.51 442.8,168.46 443.8,168.49 444.8,168.45 445.8,168.41 446.8,168.49 447.8,168.50 448.8,168.47 449.8,168.49 450.8,168.40 451.8,168.53 452.8,168.46 453.8,168.47 454.8,168.50 455.8,168.43 456.8,168.58 457.8,168.51 458.8,168.50 459.8,168.44 460.8,168.39 461.8,168.45 462.8,168.38 463.8,168.42 464.8,168.41 465.8,168.46 466.8,168.41 467.8,168.39 468.8,168.44 469.8,168.36 470.8,168.33 471.8,168.32 472.8,168.41 473.8,168.33 474.8,168.29 475.8,168.22 476.8,168.25 477.8,168.31 478.8,168.32 479.8,168.36 480.8,168.23 481.8,168.28 482.8,168.31 483.8,168.13 484.8,168.35 485.8,168.16 486.8,168.15 487.8,168.25 488.8,168.21 489.8,168.24 490.8,168.20 491.8,168.17 492.8,168.13 493.8,168.09 494.8,168.14 495.8,168.00 496.8,168.07 497.8,168.10 498.8,167.98 499.8,168.06 500.8,168.05 501.8,167.99 502.8,167.96 503.8,167.97 504.8,167.96 505.8,167.89 506.0,167.90"/>
<polyline fill="none" stroke="#7e3c4a" stroke-width="1.6" stroke-linejoin="round" stroke-linecap="round" points="320.8,170.60 321.8,170.24 322.8,170.19 323.8,170.06 324.8,169.94 325.8,169.93 326.8,169.96 327.8,169.89 328.8,169.85 329.8,169.84 330.8,169.75 331.8,169.86 332.8,169.70 333.8,169.78 334.8,169.77 335.8,169.70 336.8,169.79 337.8,169.90 338.8,169.78 339.8,169.73 340.8,169.79 341.8,169.85 342.8,169.81 343.8,169.80 344.8,169.72 345.8,169.83 346.8,169.83 347.8,169.88 348.8,169.89 349.8,169.84 350.8,169.70 351.8,169.71 352.8,169.73 353.8,169.82 354.8,169.75 355.8,169.88 356.8,169.81 357.8,169.82 358.8,169.85 359.8,169.82 360.8,169.72 361.8,169.95 362.8,169.89 363.8,169.89 364.8,169.76 365.8,169.69 366.8,169.71 367.8,169.74 368.8,169.85 369.8,169.85 370.8,169.89 371.8,169.93 372.8,169.83 373.8,169.82 374.8,169.78 375.8,169.78 376.8,169.73 377.8,169.83 378.8,169.82 379.8,169.78 380.8,169.75 381.8,169.83 382.8,169.88 383.8,169.80 384.8,169.82 385.8,169.77 386.8,169.79 387.8,169.78 388.8,169.78 389.8,169.76 390.8,169.82 391.8,169.88 392.8,169.74 393.8,169.88 394.8,169.78 395.8,169.78 396.8,169.67 397.8,169.65 398.8,169.84 399.8,169.73 400.8,169.85 401.8,169.80 402.8,169.82 403.8,169.88 404.8,169.80 405.8,169.60 406.8,169.70 407.8,169.86 408.8,169.92 409.8,169.79 410.8,169.76 411.8,169.72 412.8,169.83 413.8,169.69 414.8,169.73 415.8,169.81 416.8,169.81 417.8,169.78 418.8,169.86 419.8,169.73 420.8,169.73 421.8,169.77 422.8,169.80 423.8,169.78 424.8,169.92 425.8,169.76 426.8,169.84 427.8,169.76 428.8,169.82 429.8,169.77 430.8,169.78 431.8,169.90 432.8,169.78 433.8,169.90 434.8,169.76 435.8,169.77 436.8,169.87 437.8,169.65 438.8,169.70 439.8,169.80 440.8,169.83 441.8,169.83 442.8,169.78 443.8,169.71 444.8,169.85 445.8,169.82 446.8,169.72 447.8,169.79 448.8,169.90 449.8,169.79 450.8,169.71 451.8,169.75 452.8,169.75 453.8,169.79 454.8,169.82 455.8,169.70 456.8,169.71 457.8,169.81 458.8,169.79 459.8,169.82 460.8,169.64 461.8,169.66 462.8,169.78 463.8,169.65 464.8,169.72 465.8,169.69 466.8,169.64 467.8,169.77 468.8,169.67 469.8,169.63 470.8,169.65 471.8,169.66 472.8,169.54 473.8,169.58 474.8,169.54 475.8,169.49 476.8,169.67 477.8,169.68 478.8,169.66 479.8,169.47 480.8,169.59 481.8,169.60 482.8,169.52 483.8,169.59 484.8,169.46 485.8,169.46 486.8,169.46 487.8,169.46 488.8,169.43 489.8,169.54 490.8,169.40 491.8,169.43 492.8,169.40 493.8,169.56 494.8,169.35 495.8,169.42 496.8,169.49 497.8,169.29 498.8,169.29 499.8,169.30 500.8,169.22 501.8,169.36 502.8,169.23 503.8,169.31 504.8,169.26 505.8,169.20 506.0,169.20"/>
<polyline fill="none" stroke="#86b276" stroke-width="1.4" stroke-linejoin="round" stroke-linecap="round" points="320.8,168.30 321.8,167.85 322.8,167.46 323.8,167.10 324.8,166.99 325.8,166.99 326.8,166.81 327.8,166.82 328.8,166.50 329.8,166.77 330.8,166.73 331.8,166.45 332.8,166.52 333.8,166.48 334.8,166.48 335.8,166.58 336.8,166.44 337.8,166.40 338.8,166.52 339.8,166.56 340.8,166.41 341.8,166.46 342.8,166.31 343.8,166.50 344.8,166.60 345.8,166.46 346.8,166.41 347.8,166.24 348.8,166.38 349.8,166.24 350.8,166.47 351.8,166.55 352.8,166.52 353.8,166.42 354.8,166.45 355.8,166.36 356.8,166.43 357.8,166.43 358.8,166.42 359.8,166.20 360.8,166.44 361.8,166.46 362.8,166.37 363.8,166.47 364.8,166.50 365.8,166.26 366.8,166.51 367.8,166.40 368.8,166.35 369.8,166.46 370.8,166.38 371.8,166.41 372.8,166.37 373.8,166.40 374.8,166.36 375.8,166.42 376.8,166.38 377.8,166.36 378.8,166.56 379.8,166.48 380.8,166.52 381.8,166.63 382.8,166.54 383.8,166.49 384.8,166.40 385.8,166.56 386.8,166.54 387.8,166.58 388.8,166.49 389.8,166.47 390.8,166.32 391.8,166.54 392.8,166.37 393.8,166.45 394.8,166.54 395.8,166.50 396.8,166.48 397.8,166.53 398.8,166.34 399.8,166.49 400.8,166.59 401.8,166.58 402.8,166.36 403.8,166.56 404.8,166.51 405.8,166.39 406.8,166.36 407.8,166.46 408.8,166.58 409.8,166.51 410.8,166.38 411.8,166.47 412.8,166.54 413.8,166.45 414.8,166.41 415.8,166.49 416.8,166.27 417.8,166.48 418.8,166.32 419.8,166.43 420.8,166.46 421.8,166.41 422.8,166.36 423.8,166.39 424.8,166.48 425.8,166.30 426.8,166.33 427.8,166.43 428.8,166.47 429.8,166.39 430.8,166.35 431.8,166.45 432.8,166.35 433.8,166.55 434.8,166.48 435.8,166.52 436.8,166.28 437.8,166.32 438.8,166.33 439.8,166.24 440.8,166.29 441.8,166.41 442.8,166.24 443.8,166.29 444.8,166.43 445.8,166.32 446.8,166.33 447.8,166.28 448.8,166.22 449.8,166.23 450.8,166.27 451.8,166.19 452.8,166.23 453.8,166.18 454.8,166.20 455.8,166.32 456.8,166.23 457.8,166.06 458.8,166.14 459.8,166.30 460.8,166.28 461.8,166.02 462.8,166.14 463.8,166.09 464.8,165.87 465.8,166.09 466.8,166.21 467.8,165.97 468.8,165.99 469.8,166.08 470.8,165.95 471.8,165.93 472.8,165.97 473.8,165.80 474.8,165.94 475.8,165.77 476.8,165.85 477.8,165.89 478.8,165.93 479.8,165.70 480.8,165.75 481.8,165.72 482.8,165.52 483.8,165.62 484.8,165.61 485.8,165.60 486.8,165.68 487.8,165.49 488.8,165.44 489.8,165.40 490.8,165.36 491.8,165.36 492.8,165.41 493.8,165.14 494.8,165.18 495.8,164.93 496.8,164.93 497.8,165.03 498.8,164.78 499.8,164.92 500.8,164.94 501.8,164.70 502.8,164.65 503.8,164.64 504.8,164.53 505.8,164.51 506.0,164.50"/>
<polyline fill="none" stroke="#4690ca" stroke-width="1.6" stroke-linejoin="round" stroke-linecap="round" points="320.8,165.80 321.8,164.54 322.8,164.31 323.8,163.65 324.8,163.71 325.8,163.10 326.8,163.05 327.8,162.92 328.8,162.57 329.8,162.94 330.8,162.53 331.8,162.54 332.8,162.62 333.8,162.80 334.8,162.54 335.8,162.94 336.8,162.62 337.8,162.56 338.8,162.65 339.8,162.54 340.8,162.37 341.8,162.42 342.8,162.51 343.8,162.69 344.8,162.47 345.8,162.48 346.8,162.05 347.8,162.32 348.8,162.33 349.8,162.57 350.8,162.52 351.8,162.27 352.8,162.30 353.8,162.18 354.8,162.05 355.8,162.13 356.8,162.04 357.8,162.12 358.8,162.14 359.8,161.98 360.8,162.14 361.8,161.77 362.8,161.91 363.8,161.91 364.8,161.58 365.8,161.91 366.8,161.90 367.8,162.02 368.8,161.73 369.8,161.80 370.8,161.78 371.8,161.41 372.8,161.67 373.8,161.38 374.8,161.61 375.8,161.65 376.8,161.56 377.8,161.19 378.8,161.69 379.8,161.49 380.8,161.57 381.8,161.29 382.8,161.31 383.8,161.66 384.8,161.29 385.8,161.23 386.8,161.22 387.8,161.40 388.8,160.99 389.8,161.16 390.8,161.05 391.8,161.54 392.8,161.30 393.8,161.14 394.8,161.14 395.8,161.05 396.8,161.00 397.8,161.02 398.8,161.29 399.8,160.96 400.8,160.94 401.8,161.01 402.8,161.17 403.8,161.00 404.8,160.75 405.8,160.90 406.8,160.87 407.8,160.65 408.8,160.72 409.8,160.86 410.8,160.72 411.8,161.01 412.8,160.79 413.8,160.64 414.8,160.68 415.8,160.52 416.8,160.54 417.8,160.73 418.8,160.57 419.8,160.27 420.8,160.33 421.8,160.59 422.8,160.31 423.8,160.41 424.8,160.59 425.8,160.37 426.8,160.34 427.8,160.29 428.8,160.49 429.8,160.20 430.8,160.10 431.8,160.28 432.8,160.49 433.8,160.28 434.8,160.44 435.8,160.37 436.8,160.00 437.8,160.15 438.8,160.11 439.8,160.11 440.8,160.27 441.8,160.28 442.8,160.16 443.8,160.21 444.8,159.92 445.8,160.11 446.8,159.81 447.8,159.90 448.8,159.75 449.8,160.10 450.8,159.83 451.8,159.99 452.8,159.66 453.8,159.88 454.8,159.95 455.8,159.83 456.8,159.82 457.8,159.80 458.8,159.75 459.8,159.69 460.8,159.60 461.8,159.87 462.8,159.69 463.8,159.68 464.8,159.70 465.8,159.44 466.8,159.40 467.8,159.38 468.8,159.82 469.8,159.48 470.8,159.60 471.8,159.17 472.8,159.34 473.8,159.36 474.8,159.21 475.8,159.40 476.8,159.11 477.8,159.08 478.8,159.19 479.8,159.18 480.8,158.91 481.8,158.71 482.8,158.66 483.8,158.80 484.8,158.37 485.8,158.30 486.8,158.22 487.8,158.44 488.8,158.27 489.8,157.99 490.8,157.94 491.8,157.98 492.8,157.84 493.8,157.69 494.8,157.65 495.8,157.68 496.8,157.53 497.8,157.53 498.8,157.39 499.8,157.22 500.8,157.26 501.8,157.09 502.8,156.51 503.8,156.61 504.8,156.25 505.8,155.90 506.0,156.00"/>
<polyline fill="none" stroke="#78c6c2" stroke-width="1.3" stroke-linejoin="round" stroke-linecap="round" points="320.8,163.00 321.8,161.47 322.8,160.49 323.8,159.94 324.8,159.46 325.8,159.08 326.8,159.01 327.8,158.44 328.8,158.21 329.8,157.99 330.8,157.97 331.8,157.61 332.8,157.47 333.8,157.43 334.8,157.26 335.8,156.91 336.8,157.11 337.8,156.80 338.8,156.76 339.8,156.57 340.8,156.63 341.8,156.28 342.8,156.15 343.8,156.17 344.8,156.19 345.8,155.93 346.8,155.95 347.8,155.95 348.8,155.52 349.8,155.78 350.8,155.69 351.8,155.43 352.8,155.42 353.8,155.31 354.8,155.41 355.8,155.19 356.8,155.29 357.8,155.33 358.8,154.90 359.8,155.12 360.8,155.01 361.8,154.91 362.8,154.98 363.8,154.87 364.8,154.65 365.8,154.72 366.8,154.75 367.8,154.61 368.8,154.50 369.8,154.91 370.8,154.74 371.8,154.67 372.8,154.48 373.8,154.17 374.8,154.34 375.8,154.39 376.8,154.23 377.8,154.16 378.8,154.23 379.8,154.40 380.8,154.13 381.8,154.07 382.8,153.92 383.8,154.15 384.8,153.97 385.8,153.88 386.8,153.81 387.8,153.73 388.8,153.79 389.8,153.97 390.8,153.70 391.8,153.72 392.8,153.52 393.8,153.61 394.8,153.37 395.8,153.68 396.8,153.41 397.8,153.49 398.8,153.42 399.8,153.54 400.8,153.40 401.8,153.37 402.8,153.07 403.8,153.10 404.8,153.06 405.8,153.03 406.8,153.01 407.8,153.19 408.8,153.04 409.8,153.02 410.8,152.87 411.8,152.84 412.8,152.75 413.8,153.01 414.8,152.87 415.8,152.91 416.8,152.82 417.8,152.66 418.8,152.73 419.8,152.45 420.8,152.76 421.8,152.65 422.8,152.65 423.8,152.60 424.8,152.63 425.8,152.50 426.8,152.50 427.8,152.39 428.8,152.41 429.8,152.45 430.8,152.48 431.8,152.30 432.8,152.14 433.8,152.05 434.8,152.21 435.8,152.12 436.8,152.24 437.8,152.33 438.8,152.00 439.8,152.22 440.8,152.18 441.8,151.88 442.8,151.90 443.8,152.01 444.8,151.79 445.8,151.73 446.8,151.91 447.8,151.71 448.8,151.67 449.8,151.79 450.8,151.69 451.8,151.67 452.8,151.79 453.8,151.74 454.8,151.35 455.8,151.64 456.8,151.50 457.8,151.51 458.8,151.54 459.8,151.62 460.8,151.47 461.8,151.33 462.8,151.36 463.8,151.09 464.8,151.30 465.8,151.22 466.8,151.01 467.8,150.94 468.8,150.91 469.8,150.92 470.8,151.04 471.8,150.89 472.8,150.77 473.8,150.76 474.8,150.88 475.8,150.62 476.8,150.49 477.8,150.78 478.8,150.34 479.8,150.41 480.8,150.38 481.8,150.20 482.8,150.07 483.8,150.16 484.8,149.93 485.8,149.90 486.8,149.72 487.8,149.82 488.8,149.42 489.8,149.28 490.8,149.22 491.8,149.21 492.8,149.09 493.8,149.02 494.8,148.81 495.8,148.82 496.8,148.47 497.8,148.34 498.8,148.29 499.8,148.06 500.8,147.84 501.8,147.60 502.8,147.28 503.8,147.06 504.8,146.75 505.8,146.43 506.0,146.20"/>
<polyline fill="none" stroke="#922486" stroke-width="1.5" stroke-linejoin="round" stroke-linecap="round" points="320.8,160.50 321.8,158.72 322.8,157.77 323.8,156.55 324.8,155.88 325.8,155.61 326.8,154.94 327.8,154.68 328.8,154.48 329.8,153.97 330.8,153.80 331.8,152.88 332.8,153.33 333.8,152.89 334.8,152.54 335.8,152.51 336.8,152.11 337.8,151.93 338.8,151.59 339.8,151.70 340.8,151.40 341.8,151.37 342.8,151.55 343.8,151.28 344.8,150.88 345.8,151.11 346.8,151.11 347.8,150.81 348.8,150.71 349.8,150.59 350.8,150.33 351.8,150.66 352.8,150.47 353.8,150.28 354.8,150.22 355.8,150.13 356.8,150.39 357.8,149.97 358.8,149.62 359.8,149.93 360.8,150.02 361.8,149.92 362.8,149.65 363.8,149.34 364.8,150.03 365.8,149.35 366.8,149.52 367.8,149.40 368.8,149.23 369.8,149.21 370.8,149.01 371.8,148.98 372.8,149.00 373.8,149.01 374.8,149.45 375.8,148.69 376.8,149.05 377.8,148.77 378.8,148.61 379.8,148.33 380.8,148.54 381.8,148.28 382.8,148.48 383.8,148.42 384.8,148.05 385.8,148.46 386.8,148.13 387.8,148.12 388.8,148.11 389.8,147.92 390.8,148.15 391.8,148.22 392.8,147.88 393.8,147.98 394.8,148.12 395.8,147.83 396.8,147.60 397.8,147.84 398.8,147.58 399.8,147.46 400.8,147.16 401.8,147.43 402.8,147.18 403.8,147.36 404.8,146.83 405.8,146.97 406.8,147.45 407.8,147.46 408.8,147.13 409.8,147.06 410.8,146.48 411.8,147.00 412.8,146.71 413.8,146.36 414.8,146.54 415.8,146.47 416.8,146.78 417.8,146.63 418.8,147.03 419.8,146.79 420.8,146.46 421.8,146.51 422.8,146.10 423.8,146.47 424.8,146.18 425.8,146.24 426.8,146.22 427.8,146.12 428.8,145.97 429.8,146.16 430.8,146.12 431.8,145.40 432.8,145.74 433.8,145.77 434.8,145.64 435.8,145.75 436.8,145.84 437.8,145.64 438.8,145.53 439.8,145.73 440.8,145.55 441.8,145.48 442.8,145.80 443.8,145.55 444.8,145.08 445.8,145.50 446.8,145.03 447.8,145.17 448.8,144.70 449.8,145.23 450.8,144.61 451.8,145.00 452.8,145.29 453.8,144.93 454.8,144.76 455.8,144.50 456.8,144.59 457.8,144.78 458.8,144.07 459.8,144.26 460.8,144.68 461.8,144.28 462.8,144.55 463.8,144.39 464.8,144.02 465.8,144.11 466.8,144.37 467.8,143.95 468.8,143.95 469.8,144.00 470.8,143.71 471.8,143.69 472.8,143.78 473.8,143.57 474.8,143.53 475.8,143.59 476.8,143.75 477.8,143.28 478.8,143.09 479.8,143.73 480.8,143.24 481.8,142.56 482.8,142.76 483.8,142.43 484.8,142.82 485.8,142.32 486.8,142.36 487.8,142.69 488.8,142.11 489.8,142.13 490.8,142.09 491.8,142.11 492.8,142.01 493.8,141.98 494.8,141.41 495.8,141.50 496.8,140.90 497.8,141.07 498.8,140.84 499.8,141.01 500.8,140.42 501.8,139.87 502.8,139.36 503.8,138.66 504.8,138.10 505.8,137.39 506.0,137.40"/>
<polyline fill="none" stroke="#ebcb36" stroke-width="1.5" stroke-linejoin="round" stroke-linecap="round" points="320.8,159.10 321.8,157.34 322.8,155.90 323.8,154.61 324.8,153.63 325.8,152.53 326.8,152.04 327.8,151.32 328.8,150.78 329.8,150.21 330.8,149.69 331.8,149.34 332.8,149.02 333.8,148.58 334.8,148.24 335.8,147.76 336.8,147.40 337.8,146.96 338.8,146.48 339.8,146.17 340.8,145.78 341.8,145.56 342.8,145.20 343.8,144.95 344.8,144.75 345.8,144.54 346.8,144.24 347.8,144.04 348.8,143.88 349.8,143.78 350.8,143.47 351.8,143.32 352.8,143.50 353.8,143.12 354.8,143.02 355.8,142.72 356.8,142.74 357.8,142.65 358.8,142.51 359.8,142.42 360.8,142.34 361.8,142.28 362.8,142.23 363.8,141.97 364.8,141.87 365.8,141.92 366.8,141.80 367.8,141.62 368.8,141.49 369.8,141.44 370.8,141.40 371.8,141.35 372.8,141.29 373.8,141.17 374.8,140.94 375.8,141.06 376.8,140.88 377.8,140.73 378.8,140.63 379.8,140.63 380.8,140.43 381.8,140.35 382.8,140.30 383.8,140.32 384.8,140.01 385.8,140.11 386.8,139.79 387.8,139.80 388.8,139.80 389.8,139.78 390.8,139.52 391.8,139.62 392.8,139.57 393.8,139.36 394.8,139.30 395.8,139.23 396.8,139.02 397.8,139.29 398.8,139.07 399.8,138.85 400.8,138.93 401.8,138.85 402.8,138.73 403.8,138.69 404.8,138.68 405.8,138.50 406.8,138.39 407.8,138.54 408.8,138.36 409.8,138.23 410.8,138.32 411.8,137.95 412.8,137.97 413.8,138.04 414.8,137.94 415.8,137.88 416.8,137.75 417.8,137.67 418.8,137.61 419.8,137.56 420.8,137.58 421.8,137.54 422.8,137.44 423.8,137.44 424.8,137.13 425.8,137.19 426.8,137.06 427.8,137.22 428.8,137.00 429.8,137.01 430.8,136.92 431.8,136.78 432.8,136.71 433.8,136.77 434.8,136.73 435.8,136.58 436.8,136.71 437.8,136.52 438.8,136.53 439.8,136.44 440.8,136.43 441.8,136.18 442.8,136.37 443.8,136.26 444.8,136.21 445.8,136.19 446.8,136.08 447.8,135.86 448.8,135.87 449.8,135.77 450.8,135.76 451.8,135.79 452.8,135.80 453.8,135.51 454.8,135.47 455.8,135.51 456.8,135.49 457.8,135.41 458.8,135.28 459.8,135.30 460.8,135.23 461.8,135.08 462.8,135.17 463.8,134.89 464.8,134.94 465.8,134.87 466.8,134.83 467.8,134.80 468.8,134.60 469.8,134.55 470.8,134.52 471.8,134.52 472.8,134.24 473.8,134.25 474.8,134.11 475.8,133.92 476.8,133.92 477.8,133.69 478.8,133.65 479.8,133.55 480.8,133.58 481.8,133.22 482.8,133.22 483.8,133.05 484.8,132.89 485.8,132.74 486.8,132.75 487.8,132.45 488.8,132.43 489.8,132.21 490.8,132.15 491.8,132.03 492.8,131.72 493.8,131.64 494.8,131.57 495.8,131.44 496.8,131.16 497.8,131.13 498.8,130.96 499.8,130.65 500.8,130.36 501.8,129.84 502.8,129.51 503.8,128.98 504.8,128.42 505.8,127.55 506.0,127.40"/>
<polyline fill="none" stroke="#acacb2" stroke-width="1.3" stroke-linejoin="round" stroke-linecap="round" points="320.8,157.10 321.8,154.71 322.8,152.86 323.8,151.28 324.8,149.77 325.8,148.80 326.8,147.96 327.8,147.43 328.8,146.78 329.8,146.27 330.8,145.91 331.8,145.45 332.8,144.96 333.8,144.49 334.8,144.14 335.8,143.89 336.8,143.55 337.8,143.14 338.8,142.97 339.8,142.64 340.8,142.29 341.8,142.00 342.8,141.69 343.8,141.28 344.8,140.97 345.8,140.54 346.8,140.17 347.8,139.89 348.8,139.57 349.8,139.23 350.8,139.12 351.8,138.90 352.8,138.80 353.8,138.66 354.8,138.42 355.8,138.41 356.8,138.32 357.8,138.13 358.8,137.94 359.8,137.88 360.8,137.80 361.8,137.71 362.8,137.61 363.8,137.45 364.8,137.37 365.8,137.34 366.8,137.35 367.8,137.12 368.8,137.01 369.8,136.94 370.8,136.89 371.8,136.70 372.8,136.46 373.8,136.47 374.8,136.36 375.8,136.24 376.8,136.13 377.8,136.05 378.8,136.13 379.8,135.95 380.8,135.83 381.8,135.66 382.8,135.61 383.8,135.56 384.8,135.45 385.8,135.36 386.8,135.36 387.8,135.26 388.8,135.13 389.8,134.93 390.8,134.93 391.8,134.78 392.8,134.71 393.8,134.66 394.8,134.60 395.8,134.55 396.8,134.29 397.8,134.37 398.8,134.22 399.8,134.17 400.8,134.04 401.8,134.09 402.8,133.93 403.8,133.89 404.8,133.72 405.8,133.74 406.8,133.62 407.8,133.48 408.8,133.43 409.8,133.33 410.8,133.24 411.8,133.27 412.8,133.13 413.8,133.01 414.8,132.87 415.8,132.92 416.8,132.79 417.8,132.69 418.8,132.58 419.8,132.62 420.8,132.52 421.8,132.36 422.8,132.28 423.8,132.20 424.8,132.14 425.8,132.06 426.8,131.91 427.8,131.87 428.8,131.83 429.8,131.81 430.8,131.71 431.8,131.62 432.8,131.50 433.8,131.49 434.8,131.44 435.8,131.38 436.8,131.33 437.8,131.18 438.8,131.10 439.8,131.12 440.8,130.97 441.8,130.96 442.8,130.86 443.8,130.72 444.8,130.72 445.8,130.64 446.8,130.56 447.8,130.48 448.8,130.37 449.8,130.33 450.8,130.25 451.8,130.25 452.8,130.11 453.8,130.06 454.8,130.05 455.8,129.79 456.8,129.85 457.8,129.73 458.8,129.61 459.8,129.49 460.8,129.52 461.8,129.40 462.8,129.28 463.8,129.15 464.8,129.17 465.8,129.11 466.8,128.89 467.8,128.85 468.8,128.78 469.8,128.71 470.8,128.55 471.8,128.59 472.8,128.38 473.8,128.28 474.8,128.16 475.8,128.04 476.8,128.04 477.8,127.91 478.8,127.76 479.8,127.65 480.8,127.65 481.8,127.56 482.8,127.43 483.8,127.30 484.8,127.15 485.8,127.13 486.8,127.03 487.8,126.87 488.8,126.73 489.8,126.71 490.8,126.48 491.8,126.44 492.8,126.42 493.8,126.23 494.8,126.11 495.8,125.90 496.8,125.84 497.8,125.73 498.8,125.65 499.8,125.29 500.8,125.16 501.8,124.55 502.8,123.89 503.8,123.15 504.8,122.21 505.8,121.41 506.0,121.20"/>
<polyline fill="none" stroke="#262626" stroke-width="1.3" stroke-linejoin="round" stroke-linecap="round" points="320.8,154.60 321.8,151.98 322.8,149.80 323.8,147.67 324.8,146.22 325.8,145.03 326.8,144.10 327.8,143.57 328.8,143.10 329.8,142.72 330.8,142.11 331.8,141.73 332.8,141.23 333.8,140.92 334.8,140.63 335.8,140.24 336.8,139.78 337.8,139.51 338.8,139.24 339.8,139.04 340.8,138.75 341.8,138.70 342.8,138.37 343.8,138.25 344.8,137.90 345.8,137.69 346.8,137.46 347.8,137.29 348.8,137.10 349.8,136.92 350.8,136.72 351.8,136.53 352.8,136.45 353.8,136.35 354.8,136.20 355.8,135.98 356.8,135.96 357.8,135.76 358.8,135.57 359.8,135.54 360.8,135.35 361.8,135.37 362.8,135.21 363.8,135.04 364.8,134.94 365.8,134.86 366.8,134.72 367.8,134.59 368.8,134.62 369.8,134.38 370.8,134.26 371.8,134.07 372.8,134.09 373.8,133.96 374.8,133.86 375.8,133.66 376.8,133.67 377.8,133.43 378.8,133.31 379.8,133.25 380.8,133.14 381.8,133.07 382.8,133.06 383.8,132.84 384.8,132.80 385.8,132.65 386.8,132.48 387.8,132.33 388.8,132.30 389.8,132.15 390.8,132.08 391.8,132.04 392.8,131.92 393.8,131.90 394.8,131.67 395.8,131.63 396.8,131.75 397.8,131.58 398.8,131.47 399.8,131.41 400.8,131.23 401.8,131.16 402.8,131.19 403.8,130.95 404.8,131.01 405.8,130.79 406.8,130.89 407.8,130.76 408.8,130.64 409.8,130.59 410.8,130.49 411.8,130.34 412.8,130.22 413.8,130.18 414.8,130.13 415.8,129.95 416.8,129.91 417.8,129.91 418.8,129.70 419.8,129.60 420.8,129.42 421.8,129.49 422.8,129.30 423.8,129.19 424.8,129.05 425.8,129.08 426.8,128.93 427.8,128.86 428.8,128.74 429.8,128.61 430.8,128.60 431.8,128.52 432.8,128.38 433.8,128.30 434.8,128.26 435.8,128.17 436.8,128.19 437.8,128.15 438.8,127.95 439.8,127.86 440.8,127.88 441.8,127.78 442.8,127.69 443.8,127.61 444.8,127.58 445.8,127.48 446.8,127.41 447.8,127.35 448.8,127.11 449.8,127.18 450.8,127.10 451.8,127.00 452.8,126.90 453.8,126.77 454.8,126.67 455.8,126.69 456.8,126.54 457.8,126.62 458.8,126.50 459.8,126.39 460.8,126.37 461.8,126.26 462.8,126.15 463.8,126.16 464.8,126.01 465.8,125.92 466.8,125.86 467.8,125.77 468.8,125.70 469.8,125.55 470.8,125.47 471.8,125.43 472.8,125.32 473.8,125.24 474.8,125.06 475.8,125.01 476.8,124.90 477.8,124.84 478.8,124.78 479.8,124.62 480.8,124.55 481.8,124.45 482.8,124.37 483.8,124.24 484.8,124.11 485.8,123.99 486.8,123.89 487.8,123.85 488.8,123.74 489.8,123.56 490.8,123.38 491.8,123.31 492.8,123.23 493.8,122.98 494.8,122.93 495.8,122.91 496.8,122.67 497.8,122.43 498.8,122.27 499.8,121.96 500.8,121.73 501.8,121.28 502.8,120.66 503.8,119.87 504.8,118.55 505.8,116.50 506.0,116.00"/>
<polyline fill="none" stroke="#f0b8c6" stroke-width="1.3" stroke-linejoin="round" stroke-linecap="round" points="320.8,153.10 321.8,150.53 322.8,148.15 323.8,146.07 324.8,144.67 325.8,143.50 326.8,142.67 327.8,142.03 328.8,141.48 329.8,141.01 330.8,140.53 331.8,140.04 332.8,139.67 333.8,139.25 334.8,138.85 335.8,138.56 336.8,138.28 337.8,137.94 338.8,137.65 339.8,137.41 340.8,137.10 341.8,136.80 342.8,136.52 343.8,136.33 344.8,135.96 345.8,135.70 346.8,135.50 347.8,135.27 348.8,134.95 349.8,134.84 350.8,134.63 351.8,134.48 352.8,134.30 353.8,134.16 354.8,134.08 355.8,133.90 356.8,133.71 357.8,133.60 358.8,133.44 359.8,133.28 360.8,133.22 361.8,133.17 362.8,133.05 363.8,132.86 364.8,132.91 365.8,132.73 366.8,132.54 367.8,132.45 368.8,132.34 369.8,132.20 370.8,132.16 371.8,132.05 372.8,131.84 373.8,131.74 374.8,131.61 375.8,131.45 376.8,131.29 377.8,131.16 378.8,131.11 379.8,130.98 380.8,130.85 381.8,130.74 382.8,130.62 383.8,130.48 384.8,130.29 385.8,130.17 386.8,130.20 387.8,130.04 388.8,129.86 389.8,129.78 390.8,129.73 391.8,129.67 392.8,129.55 393.8,129.42 394.8,129.31 395.8,129.14 396.8,129.11 397.8,128.97 398.8,128.91 399.8,128.73 400.8,128.73 401.8,128.59 402.8,128.56 403.8,128.35 404.8,128.36 405.8,128.24 406.8,128.11 407.8,128.07 408.8,127.92 409.8,127.92 410.8,127.69 411.8,127.80 412.8,127.53 413.8,127.41 414.8,127.30 415.8,127.32 416.8,127.19 417.8,127.06 418.8,126.97 419.8,126.86 420.8,126.86 421.8,126.76 422.8,126.67 423.8,126.49 424.8,126.50 425.8,126.36 426.8,126.30 427.8,126.18 428.8,126.16 429.8,126.11 430.8,125.97 431.8,125.91 432.8,125.82 433.8,125.70 434.8,125.69 435.8,125.56 436.8,125.53 437.8,125.49 438.8,125.46 439.8,125.28 440.8,125.30 441.8,125.26 442.8,125.12 443.8,125.05 444.8,124.99 445.8,124.92 446.8,124.80 447.8,124.76 448.8,124.52 449.8,124.51 450.8,124.47 451.8,124.44 452.8,124.24 453.8,124.15 454.8,124.07 455.8,124.05 456.8,123.87 457.8,123.85 458.8,123.80 459.8,123.63 460.8,123.58 461.8,123.45 462.8,123.39 463.8,123.18 464.8,123.05 465.8,123.04 466.8,122.97 467.8,122.75 468.8,122.71 469.8,122.53 470.8,122.45 471.8,122.29 472.8,122.25 473.8,122.12 474.8,122.14 475.8,121.98 476.8,121.94 477.8,121.88 478.8,121.61 479.8,121.68 480.8,121.50 481.8,121.40 482.8,121.26 483.8,121.09 484.8,121.01 485.8,120.93 486.8,120.75 487.8,120.70 488.8,120.60 489.8,120.38 490.8,120.26 491.8,120.19 492.8,119.93 493.8,119.89 494.8,119.62 495.8,119.57 496.8,119.32 497.8,119.07 498.8,118.84 499.8,118.65 500.8,118.15 501.8,117.65 502.8,117.03 503.8,115.66 504.8,113.11 505.8,109.94 506.0,109.20"/>
<rect x="313" y="19" width="1" height="188" fill="#2a2a2a"/>
<rect x="513" y="19" width="1" height="188" fill="#2a2a2a"/>
<rect x="313" y="19" width="201" height="1" fill="#3a3a3a"/>
<rect x="313" y="206" width="201" height="1" fill="#2a2a2a"/>
<line x1="310" y1="25.6" x2="313" y2="25.6" stroke="#333" stroke-width="1"/>
<text x="307.7" y="28.6" text-anchor="end" font-size="8.2" fill="#222" stroke="#222" stroke-width="0.22">0.05</text>
<line x1="310" y1="54.6" x2="313" y2="54.6" stroke="#333" stroke-width="1"/>
<text x="307.7" y="57.6" text-anchor="end" font-size="8.2" fill="#222" stroke="#222" stroke-width="0.22">0.04</text>
<line x1="310" y1="83.6" x2="313" y2="83.6" stroke="#333" stroke-width="1"/>
<text x="307.7" y="86.6" text-anchor="end" font-size="8.2" fill="#222" stroke="#222" stroke-width="0.22">0.03</text>
<line x1="310" y1="112.6" x2="313" y2="112.6" stroke="#333" stroke-width="1"/>
<text x="307.7" y="115.6" text-anchor="end" font-size="8.2" fill="#222" stroke="#222" stroke-width="0.22">0.02</text>
<line x1="310" y1="141.6" x2="313" y2="141.6" stroke="#333" stroke-width="1"/>
<text x="307.7" y="144.6" text-anchor="end" font-size="8.2" fill="#222" stroke="#222" stroke-width="0.22">0.01</text>
<line x1="310" y1="170.6" x2="313" y2="170.6" stroke="#333" stroke-width="1"/>
<text x="307.7" y="173.6" text-anchor="end" font-size="8.2" fill="#222" stroke="#222" stroke-width="0.22">0.00</text>
<line x1="310" y1="199.6" x2="313" y2="199.6" stroke="#333" stroke-width="1"/>
<text x="307.7" y="202.6" text-anchor="end" font-size="8.2" fill="#222" stroke="#222" stroke-width="0.22">−0.01</text>
<line x1="320.8" y1="207" x2="320.8" y2="209.5" stroke="#333" stroke-width="1"/>
<text x="320.8" y="219.6" text-anchor="middle" font-size="8.2" fill="#222" stroke="#222" stroke-width="0.22">0</text>
<line x1="372.2" y1="207" x2="372.2" y2="209.5" stroke="#333" stroke-width="1"/>
<text x="372.2" y="219.6" text-anchor="middle" font-size="8.2" fill="#222" stroke="#222" stroke-width="0.22">500</text>
<line x1="423.6" y1="207" x2="423.6" y2="209.5" stroke="#333" stroke-width="1"/>
<text x="423.6" y="219.6" text-anchor="middle" font-size="8.2" fill="#222" stroke="#222" stroke-width="0.22">1000</text>
<line x1="475.0" y1="207" x2="475.0" y2="209.5" stroke="#333" stroke-width="1"/>
<text x="475.0" y="219.6" text-anchor="middle" font-size="8.2" fill="#222" stroke="#222" stroke-width="0.22">1500</text>
<text x="376.9" y="231.7" font-size="8.6" fill="#222" stroke="#222" stroke-width="0.3" textLength="72.5" lengthAdjust="spacingAndGlyphs">Validation cohort patients</text>
<text transform="translate(282.9,129.3) rotate(-90)" x="0" y="0" font-size="8.8" fill="#222" stroke="#222" stroke-width="0.3" textLength="32.5" lengthAdjust="spacingAndGlyphs">S(3|×) diff.</text>
<text x="62.7" y="35.9" font-size="7.4" fill="#2a2a2a" stroke="#2a2a2a" stroke-width="0.12">Donor age 18</text>
<line x1="62.7" y1="44.7" x2="74.7" y2="44.7" stroke="#e9b4c2" stroke-width="1.2"/>
<text x="77.3" y="47.3" font-size="7.6" fill="#222" stroke="#222" stroke-width="0.15">40</text>
<line x1="97.8" y1="44.7" x2="110" y2="44.7" stroke="#acdcd6" stroke-width="1.2"/>
<text x="113.1" y="47.3" font-size="7.6" fill="#222" stroke="#222" stroke-width="0.15">31</text>
<line x1="62.7" y1="55.8" x2="74.7" y2="55.8" stroke="#8a8a8a" stroke-width="1.2"/>
<text x="77.3" y="58.4" font-size="7.6" fill="#222" stroke="#222" stroke-width="0.15">37</text>
<line x1="97.8" y1="55.8" x2="110" y2="55.8" stroke="#9cc6dc" stroke-width="1.2"/>
<text x="113.1" y="58.4" font-size="7.6" fill="#222" stroke="#222" stroke-width="0.15">30</text>
<line x1="62.7" y1="66.8" x2="74.7" y2="66.8" stroke="#c2bcc6" stroke-width="1.2"/>
<text x="77.3" y="69.4" font-size="7.6" fill="#222" stroke="#222" stroke-width="0.15">34</text>
<line x1="97.8" y1="66.8" x2="110" y2="66.8" stroke="#a6c8a4" stroke-width="1.2"/>
<text x="113.1" y="69.4" font-size="7.6" fill="#222" stroke="#222" stroke-width="0.15">27</text>
<line x1="62.7" y1="77.9" x2="74.7" y2="77.9" stroke="#f2dc8a" stroke-width="1.2"/>
<text x="77.3" y="80.5" font-size="7.6" fill="#222" stroke="#222" stroke-width="0.15">33</text>
<line x1="97.8" y1="77.9" x2="110" y2="77.9" stroke="#f0bcb8" stroke-width="1.2"/>
<text x="113.1" y="80.5" font-size="7.6" fill="#222" stroke="#222" stroke-width="0.15">24</text>
<line x1="62.7" y1="88.9" x2="74.7" y2="88.9" stroke="#c2a2c2" stroke-width="1.2"/>
<text x="77.3" y="91.5" font-size="7.6" fill="#222" stroke="#222" stroke-width="0.15">32</text>
<line x1="97.8" y1="88.9" x2="110" y2="88.9" stroke="#7e7e7e" stroke-width="1.2"/>
<text x="113.1" y="91.5" font-size="7.6" fill="#222" stroke="#222" stroke-width="0.15">21</text>
<text x="322.7" y="34.3" font-size="7.4" fill="#2a2a2a" stroke="#2a2a2a" stroke-width="0.12">Donor age 18</text>
<line x1="322.7" y1="42.8" x2="334.7" y2="42.8" stroke="#e9b4c2" stroke-width="1.2"/>
<text x="337.3" y="45.4" font-size="7.6" fill="#222" stroke="#222" stroke-width="0.15">40</text>
<line x1="357.8" y1="42.8" x2="370" y2="42.8" stroke="#acdcd6" stroke-width="1.2"/>
<text x="373.1" y="45.4" font-size="7.6" fill="#222" stroke="#222" stroke-width="0.15">31</text>
<line x1="322.7" y1="53.8" x2="334.7" y2="53.8" stroke="#8a8a8a" stroke-width="1.2"/>
<text x="337.3" y="56.4" font-size="7.6" fill="#222" stroke="#222" stroke-width="0.15">37</text>
<line x1="357.8" y1="53.8" x2="370" y2="53.8" stroke="#9cc6dc" stroke-width="1.2"/>
<text x="373.1" y="56.4" font-size="7.6" fill="#222" stroke="#222" stroke-width="0.15">30</text>
<line x1="322.7" y1="64.9" x2="334.7" y2="64.9" stroke="#c2bcc6" stroke-width="1.2"/>
<text x="337.3" y="67.5" font-size="7.6" fill="#222" stroke="#222" stroke-width="0.15">34</text>
<line x1="357.8" y1="64.9" x2="370" y2="64.9" stroke="#a6c8a4" stroke-width="1.2"/>
<text x="373.1" y="67.5" font-size="7.6" fill="#222" stroke="#222" stroke-width="0.15">27</text>
<line x1="322.7" y1="76.0" x2="334.7" y2="76.0" stroke="#f2dc8a" stroke-width="1.2"/>
<text x="337.3" y="78.5" font-size="7.6" fill="#222" stroke="#222" stroke-width="0.15">33</text>
<line x1="357.8" y1="76.0" x2="370" y2="76.0" stroke="#f0bcb8" stroke-width="1.2"/>
<text x="373.1" y="78.5" font-size="7.6" fill="#222" stroke="#222" stroke-width="0.15">24</text>
<line x1="322.7" y1="87.0" x2="334.7" y2="87.0" stroke="#c2a2c2" stroke-width="1.2"/>
<text x="337.3" y="89.6" font-size="7.6" fill="#222" stroke="#222" stroke-width="0.15">32</text>
<line x1="357.8" y1="87.0" x2="370" y2="87.0" stroke="#7e7e7e" stroke-width="1.2"/>
<text x="373.1" y="89.6" font-size="7.6" fill="#222" stroke="#222" stroke-width="0.15">21</text>
<text x="6.5" y="15.9" font-size="11.7" font-weight="bold" fill="#111">A</text>
<text x="266.3" y="15.9" font-size="11.7" font-weight="bold" fill="#111">B</text>
<rect x="0.5" y="0.5" width="519" height="240" fill="none" stroke="#5e5e5e" stroke-width="1"/></svg>
</body></html>
